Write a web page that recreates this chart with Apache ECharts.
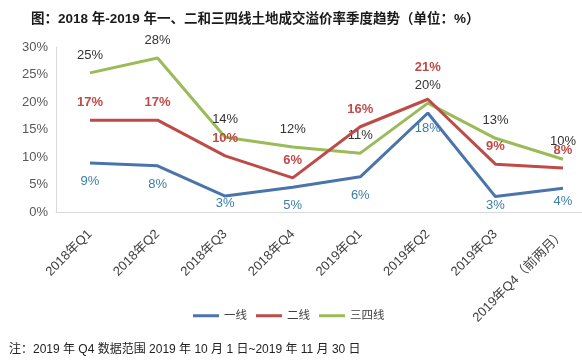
<!DOCTYPE html>
<html><head><meta charset="utf-8">
<script src="https://cdn.jsdelivr.net/npm/echarts@6/dist/echarts.min.js"></script>
<style>html,body{margin:0;padding:0;background:#fff}#c{width:582px;height:360px}</style>
</head><body><div id="c"></div>
<script>
const categories = ['2018年Q1','2018年Q2','2018年Q3','2018年Q4','2019年Q1','2019年Q2','2019年Q3','2019年Q4（前两月）'];
const tier1 = [8.9, 8.4, 2.9, 4.5, 6.4, 18.0, 2.8, 4.3];
const tier2 = [16.7, 16.7, 10.2, 6.2, 15.5, 20.5, 8.7, 8.0];
const tier34 = [25.3, 28.0, 13.6, 11.8, 10.7, 19.8, 13.4, 9.6];
const yTicks = [0, 5, 10, 15, 20, 25, 30];

const font = "'Liberation Sans', Arial, 'Noto Sans CJK SC', sans-serif";
const chart = echarts.init(document.getElementById('c'));
function lbl(pos, color, bold, off) {
  return {show: true, position: pos, distance: off, color: color, fontSize: 13, fontFamily: font,
    fontWeight: bold ? 'bold' : 'normal', formatter: p => Math.round(p.value) + '%'};
}
function withDist(arr, overrides) {
  return arr.map((v, i) => overrides[i] !== undefined ? {value: v, label: {distance: overrides[i]}} : v);
}
function ser(name, data, color, label, z) {
  return {name: name, type: 'line', xAxisIndex: 1, yAxisIndex: 1, data: data, symbol: 'circle', symbolSize: 0, showSymbol: true,
    lineStyle: {width: 3, color: color}, itemStyle: {color: color}, label: label, z: z,
    labelLayout: {hideOverlap: false}};
}
const yMin = yTicks[0], yMax = yTicks[yTicks.length - 1];
chart.setOption({
  animation: false,
  textStyle: {fontFamily: font},
  title: [{
    text: '图：2018 年-2019 年一、二和三四线土地成交溢价率季度趋势（单位：%）',
    left: 26, top: 8, textStyle: {fontSize: 13.5, fontWeight: 'bold', color: '#1a1a1a', fontFamily: font}
  }, {
    text: '注：2019 年 Q4 数据范围 2019 年 10 月 1 日~2019 年 11 月 30 日',
    left: 4, top: 339, textStyle: {fontSize: 12, fontWeight: 'normal', color: '#222', fontFamily: font}
  }],
  legend: {
    top: 305, left: 188, itemWidth: 26, itemHeight: 3, itemGap: 9,
    icon: 'rect',
    textStyle: {fontSize: 11.5, color: '#404040', fontFamily: font},
    data: ['一线', '二线', '三四线']
  },
  grid: [
    {left: 56, right: 0, top: 47, bottom: 148, containLabel: false, outerBoundsMode: 'none'},
    {left: 90, right: 19, top: 47, bottom: 148, containLabel: false, outerBoundsMode: 'none'}
  ],
  xAxis: [{
    gridIndex: 0, type: 'category', data: categories,
    axisLine: {lineStyle: {color: '#d9d9d9'}}, axisTick: {show: false}, axisLabel: {show: false}
  }, {
    gridIndex: 1, type: 'category', data: categories, boundaryGap: false,
    axisLine: {show: false},
    axisTick: {show: false},
    axisLabel: {rotate: 45, color: '#404040', fontSize: 13, margin: 20, interval: 0, fontFamily: font, hideOverlap: false}
  }],
  yAxis: [{
    gridIndex: 0, type: 'value', min: yMin, max: yMax, interval: 5,
    axisLine: {show: true, lineStyle: {color: '#d9d9d9'}},
    axisTick: {show: false},
    splitLine: {show: false},
    axisLabel: {color: '#595959', fontSize: 13, margin: 8, formatter: v => v + '%', fontFamily: font}
  }, {
    gridIndex: 1, type: 'value', min: yMin, max: yMax, interval: 5, show: false, splitLine: {show: false}
  }],
  series: [
    ser('一线', withDist(tier1, {2: 1, 6: 2, 7: 7, 5: 9}), '#4a74aa', lbl('bottom', '#3b7ea8', false, 12), 3),
    ser('二线', withDist(tier2, {5: 25}), '#be4b48', lbl('top', '#be4b48', true, 11), 4),
    ser('三四线', tier34, '#9bbb59', lbl('top', '#333333', false, 11), 2)
  ]
});
</script></body></html>
